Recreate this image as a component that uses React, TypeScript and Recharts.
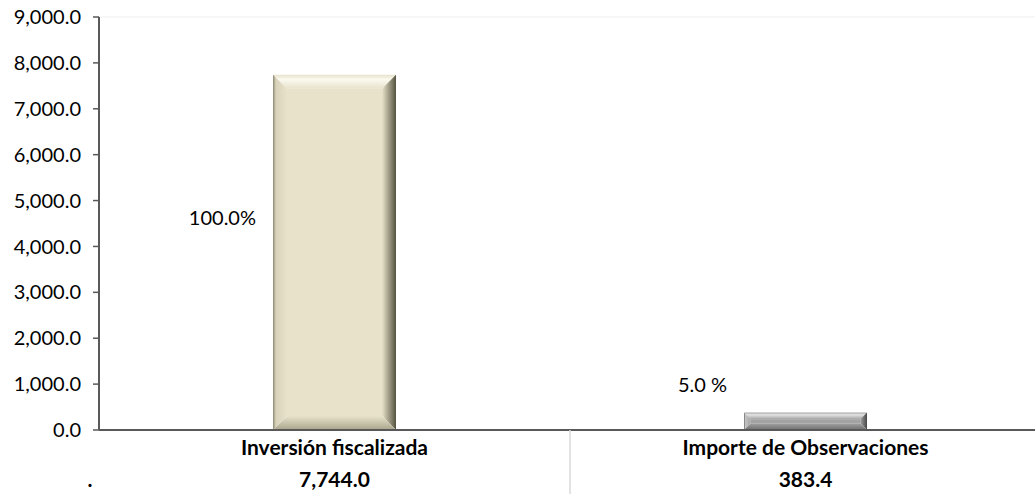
import { Bar, BarChart, LabelList, ReferenceLine, XAxis, YAxis } from "recharts";

const categories = ["Inversión fiscalizada", "Importe de Observaciones"];
const amounts = [7744.0, 383.4];
const shares = ["100.0%", "5.0 %"];
const yTicks = [0, 1000, 2000, 3000, 4000, 5000, 6000, 7000, 8000, 9000];

const chartData = categories.map((name, i) => ({
  name,
  amount: amounts[i],
  share: shares[i],
}));

const W = 1035;
const H = 494;
const FONT = "Lato, 'Open Sans', sans-serif";
const AXIS = "#595959";
const LEGEND_DOT_X = 90;

// face / light / dark tones for the bevelled bars
const palette = [
  { face: "#e8e2cb", top: "#fbf9f0", left: "#d8d2ba", right: "#55533f", bottom: "#a9a48c", edge: "#8a866f" },
  { face: "#a2a2a2", top: "#e4e4e4", left: "#c4c4c4", right: "#474747", bottom: "#6e6e6e", edge: "#666666" },
];

const fmt1 = (v: number) =>
  v.toLocaleString("en-US", { minimumFractionDigits: 1, maximumFractionDigits: 1 });

function BevelBar(props: any) {
  const { x, y, width: w, height: h, index } = props;
  if (!h || h <= 0) return null;
  const c = palette[index % palette.length];
  const b = Math.min(14, h / 2.6, w / 4);
  const id = `bev${index}`;
  return (
    <g>
      <defs>
        <linearGradient id={`${id}r`} x1="0" y1="0" x2="1" y2="0">
          <stop offset="0%" stopColor={c.face} />
          <stop offset="100%" stopColor={c.right} />
        </linearGradient>
        <linearGradient id={`${id}l`} x1="0" y1="0" x2="1" y2="0">
          <stop offset="0%" stopColor={c.edge} />
          <stop offset="20%" stopColor={c.left} />
          <stop offset="100%" stopColor={c.face} />
        </linearGradient>
        <linearGradient id={`${id}t`} x1="0" y1="0" x2="0" y2="1">
          <stop offset="0%" stopColor={c.face} />
          <stop offset="35%" stopColor={c.top} />
          <stop offset="100%" stopColor={c.face} />
        </linearGradient>
        <linearGradient id={`${id}b`} x1="0" y1="0" x2="0" y2="1">
          <stop offset="0%" stopColor={c.face} />
          <stop offset="100%" stopColor={c.bottom} />
        </linearGradient>
      </defs>
      <rect x={x + b} y={y + b} width={w - 2 * b} height={h - 2 * b} fill={c.face} />
      <polygon
        points={`${x},${y} ${x + w},${y} ${x + w - b},${y + b} ${x + b},${y + b}`}
        fill={`url(#${id}t)`}
      />
      <polygon
        points={`${x},${y} ${x + b},${y + b} ${x + b},${y + h - b} ${x},${y + h}`}
        fill={`url(#${id}l)`}
      />
      <polygon
        points={`${x + w},${y} ${x + w},${y + h} ${x + w - b},${y + h - b} ${x + w - b},${y + b}`}
        fill={`url(#${id}r)`}
      />
      <polygon
        points={`${x},${y + h} ${x + b},${y + h - b} ${x + w - b},${y + h - b} ${x + w},${y + h}`}
        fill={`url(#${id}b)`}
      />
    </g>
  );
}

function ShareLabel(props: any) {
  const { x, y, height, value } = props;
  const ty = height > 100 ? y + height * 0.4 : y - 28;
  return (
    <text
      x={x - 17}
      y={ty}
      textAnchor="end"
      dominantBaseline="central"
      fontFamily={FONT}
      fontSize={20}
      fill="#000"
    >
      {value}
    </text>
  );
}

// category axis tick drawn as a two-row data table (name / value)
function TableTick(props: any) {
  const { x, y, payload, index, visibleTicksCount, width } = props;
  const row = chartData.find((d) => d.name === payload.value);
  const band = width / (visibleTicksCount || chartData.length);
  const txt = {
    textAnchor: "middle" as const,
    dominantBaseline: "central" as const,
    fontFamily: FONT,
    fontSize: 21,
    fontWeight: 700,
    fill: "#000",
  };
  return (
    <g>
      {index === 0 && (
        <text {...txt} x={LEGEND_DOT_X} y={y + 48}>
          .
        </text>
      )}
      {index > 0 && (
        <line x1={x - band / 2} y1={y} x2={x - band / 2} y2={H} stroke="#d9d9d9" strokeWidth={1.5} />
      )}
      <text {...txt} x={x} y={y + 16}>
        {payload.value}
      </text>
      <text {...txt} x={x} y={y + 48}>
        {row ? fmt1(row.amount) : ""}
      </text>
    </g>
  );
}

export default function App() {
  return (
    <div style={{ position: "absolute", left: 0, top: 0, width: W, height: H, background: "#fff", overflow: "hidden" }}>
      <BarChart
        width={W}
        height={H}
        data={chartData}
        margin={{ top: 17, right: -6, bottom: 0, left: 0 }}
        style={{ fontFamily: FONT }}
      >
        <ReferenceLine y={9000} stroke="#efefef" strokeWidth={1} />
        <XAxis
          dataKey="name"
          interval={0}
          height={64}
          axisLine={{ stroke: AXIS, strokeWidth: 2 }}
          tickLine={false}
          tickSize={0}
          tickMargin={0}
          tick={<TableTick />}
        />
        <YAxis
          width={99}
          domain={[0, 9000]}
          ticks={yTicks}
          interval={0}
          tickFormatter={fmt1}
          tickSize={6}
          tickMargin={12}
          axisLine={{ stroke: AXIS, strokeWidth: 2 }}
          tickLine={{ stroke: AXIS, strokeWidth: 1.5 }}
          tick={{ fill: "#000", fontSize: 20, fontFamily: FONT }}
        />
        <Bar dataKey="amount" barSize={123} shape={<BevelBar />} isAnimationActive={false}>
          <LabelList dataKey="share" content={<ShareLabel />} />
        </Bar>
      </BarChart>
    </div>
  );
}
